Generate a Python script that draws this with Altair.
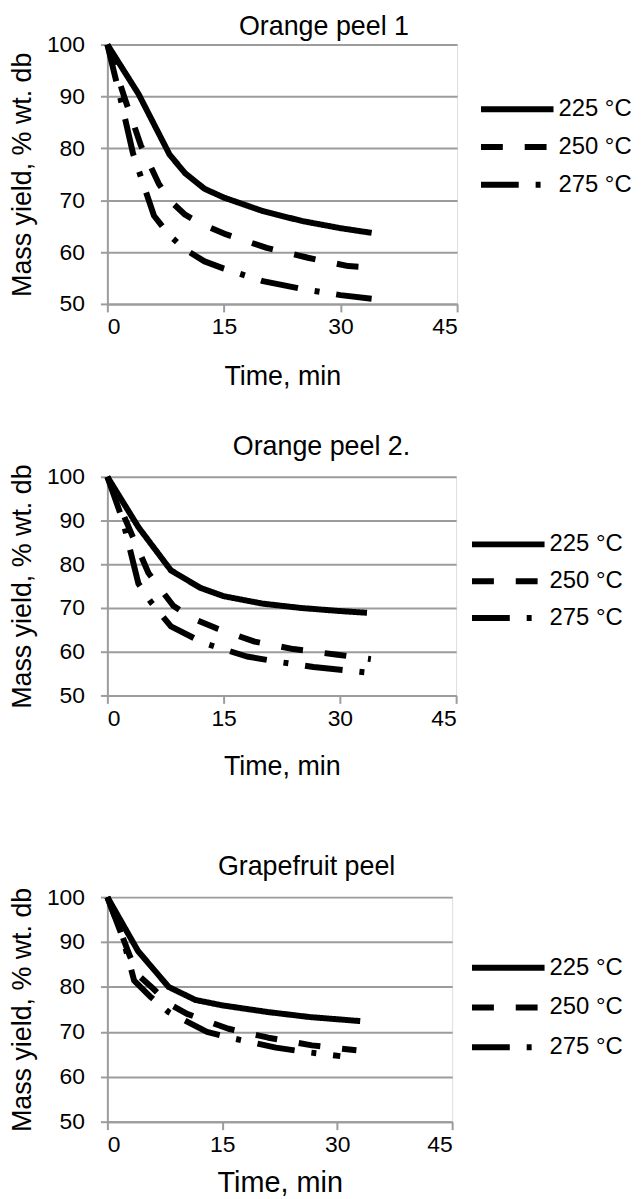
import altair as alt
import pandas as pd

FONT = "Liberation Sans"
GRID = "#9c9c9c"

series = ["225 °C", "250 °C", "275 °C"]
dashes = [[1, 0], [22, 22], [38, 17, 5, 17]]
x_ticks = [0, 15, 30, 45]
y_ticks = [50, 60, 70, 80, 90, 100]

# Orange peel 1
op1_t225 = [0, 4, 8, 10, 12.5, 15, 20, 25, 30, 34]
op1_y225 = [100, 90.5, 78.8, 75.2, 72.2, 70.5, 67.9, 66.0, 64.6, 63.7]
op1_t250 = [0, 2.2, 4.3, 6.6, 8, 10, 12, 15.3, 20.5, 25.8, 31, 34.2]
op1_y250 = [100, 89.8, 80.6, 73.2, 70.0, 67.2, 65.5, 63.4, 60.8, 58.9, 57.3, 57.0]
op1_t275 = [0, 1.7, 3.3, 6, 8, 10, 12.5, 15, 20, 25, 30, 34]
op1_y275 = [100, 89.5, 79.0, 67.0, 63.2, 60.5, 58.2, 56.8, 54.4, 52.9, 51.7, 51.0]

# Orange peel 2.
op2_t225 = [0, 4, 8.2, 12, 15, 20, 25, 30, 33.5]
op2_y225 = [100, 88.5, 78.6, 74.6, 72.7, 71.0, 70.0, 69.3, 68.9]
op2_t250 = [0, 3.2, 5.3, 8.5, 11, 14, 19, 24, 29.7, 34]
op2_y250 = [100, 86.6, 78.0, 70.5, 67.6, 65.4, 62.3, 60.6, 59.3, 58.3]
op2_t275 = [0, 2, 4, 5.6, 8.2, 12.4, 18, 22, 26.6, 33.7]
op2_y275 = [100, 90, 75.6, 71.4, 65.8, 62.0, 58.9, 57.7, 56.5, 55.2]

# Grapefruit peel
gp_t225 = [0, 4, 8, 11.5, 15, 21, 26.4, 33]
gp_y225 = [100, 88, 80, 77.1, 75.9, 74.4, 73.3, 72.4]
gp_t250 = [0, 3, 4.1, 6, 8, 10.4, 15.8, 21, 26.7, 32.5]
gp_y250 = [100, 86.6, 82.5, 79.6, 76.3, 74.0, 70.7, 68.7, 67.0, 65.9]
gp_t275 = [0, 2, 3.5, 5.7, 8, 13, 16, 22, 26, 30.4]
gp_y275 = [100, 91, 81.4, 77.7, 74.4, 70.0, 68.7, 66.5, 65.5, 64.6]


def frame(ts, ys):
    rows = []
    for s, t_list, y_list in zip(series, ts, ys):
        for i, (t, y) in enumerate(zip(t_list, y_list)):
            rows.append({"s": s, "t": t, "y": y, "i": i})
    return pd.DataFrame(rows)


def panel(df, title, w, h, tdx, toff, lx, ly, lpad, xt_size, xt_pad):
    return alt.Chart(df).mark_line(color="black", strokeWidth=6, strokeJoin="round").encode(
        x=alt.X("t:Q", scale=alt.Scale(domain=[0, 45], nice=False),
                axis=alt.Axis(values=x_ticks, title="Time, min", grid=False,
                              domainColor=GRID, domainWidth=2, tickColor=GRID, tickWidth=2,
                              tickSize=8, labelFont=FONT, labelFontSize=23, labelColor="black",
                              labelPadding=4, titleFont=FONT, titleFontSize=xt_size,
                              titleFontWeight="normal", titleColor="black", titlePadding=xt_pad)),
        y=alt.Y("y:Q", scale=alt.Scale(domain=[50, 100], nice=False),
                axis=alt.Axis(values=y_ticks, title="Mass yield, % wt. db", grid=True,
                              gridColor=GRID, gridWidth=2, domainColor=GRID, domainWidth=2,
                              tickColor=GRID, tickWidth=2, tickSize=7, labelFont=FONT,
                              labelFontSize=23, labelColor="black", labelPadding=16,
                              titleFont=FONT, titleFontSize=27, titleFontWeight="normal",
                              titleColor="black", titlePadding=10)),
        strokeDash=alt.StrokeDash("s:N", scale=alt.Scale(domain=series, range=dashes),
                                  legend=alt.Legend(title=None, orient="none", legendX=lx, legendY=ly,
                                                    direction="vertical", symbolType="stroke",
                                                    symbolSize=5329, symbolStrokeWidth=6,
                                                    symbolStrokeColor="black", labelFont=FONT,
                                                    labelFontSize=24, labelColor="black",
                                                    labelOffset=2, rowPadding=lpad, padding=0,
                                                    clipHeight=20, labelLimit=300)),
        order="i:Q",
    ).properties(
        width=w, height=h,
        title=alt.Title(title, font=FONT, fontSize=27, fontWeight="normal", color="black",
                        anchor="middle", dx=tdx, offset=toff, baseline="alphabetic"),
    )


p1 = panel(frame([op1_t225, op1_t250, op1_t275], [op1_y225, op1_y250, op1_y275]),
           "Orange peel 1", 352, 261, 42, -28, 373, 55, 14, 27, 25)
p2 = panel(frame([op2_t225, op2_t250, op2_t275], [op2_y225, op2_y250, op2_y275]),
           "Orange peel 2.", 351, 220, 40, -18, 364, 58, 13, 27, 24)
p3 = panel(frame([gp_t225, gp_t250, gp_t275], [gp_y225, gp_y250, gp_y275]),
           "Grapefruit peel", 347, 226, 27, -16, 364, 61, 16, 29, 12)

inner = alt.vconcat(p1, p2, spacing=42).resolve_scale(strokeDash="independent").resolve_legend(
    strokeDash="independent")
chart = alt.vconcat(inner, p3, spacing=72).resolve_scale(strokeDash="independent").resolve_legend(
    strokeDash="independent"
).properties(padding=0).configure_view(stroke=None).configure(background="white")

chart.save("out.html", embed_options={"renderer": "svg", "actions": False})
